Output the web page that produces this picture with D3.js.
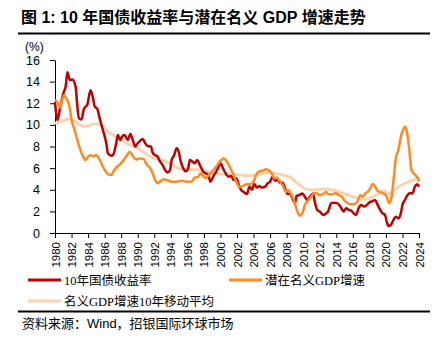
<!DOCTYPE html>
<html><head><meta charset="utf-8">
<script src="https://cdn.jsdelivr.net/npm/d3@7"></script>
<style>body{margin:0;background:#fff}svg{display:block}</style>
</head><body>
<script>
const yieldSeries = [[1980.0,12.1],[1980.3,10.45],[1980.6,11.5],[1981.0,12.9],[1981.3,13.6],[1981.5,14.86],[1981.8,14.15],[1982.1,14.2],[1982.5,13.5],[1982.7,11.7],[1982.9,10.6],[1983.2,10.5],[1983.5,11.5],[1983.9,11.85],[1984.3,13.2],[1984.6,12.45],[1984.8,11.7],[1985.1,11.5],[1985.4,10.6],[1985.8,9.5],[1986.2,8.3],[1986.4,7.37],[1986.8,7.15],[1987.0,7.2],[1987.4,8.3],[1987.6,9.06],[1987.9,8.6],[1988.1,8.9],[1988.4,9.06],[1988.8,8.6],[1989.1,9.15],[1989.4,8.6],[1989.7,8.0],[1990.0,8.3],[1990.4,8.6],[1990.6,8.7],[1990.9,8.3],[1991.2,8.05],[1991.6,8.0],[1991.8,7.43],[1992.1,7.2],[1992.4,7.06],[1992.7,6.6],[1993.0,6.3],[1993.3,5.83],[1993.6,5.6],[1993.9,5.83],[1994.1,6.75],[1994.4,7.2],[1994.7,7.83],[1995.0,7.37],[1995.2,6.6],[1995.5,6.0],[1995.8,5.7],[1996.1,6.0],[1996.3,6.75],[1996.6,6.6],[1996.9,6.45],[1997.2,6.75],[1997.5,6.3],[1997.9,5.7],[1998.2,5.52],[1998.5,5.4],[1998.8,4.75],[1999.1,5.2],[1999.5,5.7],[1999.7,6.0],[2000.0,6.45],[2000.3,5.98],[2000.75,5.37],[2001.0,5.2],[2001.3,5.27],[2001.6,4.9],[2001.9,5.06],[2002.3,4.28],[2002.5,3.97],[2002.8,3.8],[2003.2,3.6],[2003.5,4.28],[2003.8,4.0],[2004.1,4.53],[2004.4,4.2],[2004.7,4.35],[2005.0,4.2],[2005.4,4.28],[2005.7,4.6],[2006.0,4.75],[2006.3,5.2],[2006.6,4.84],[2006.9,4.9],[2007.2,4.65],[2007.5,4.65],[2007.8,4.13],[2008.1,3.6],[2008.4,3.66],[2008.7,3.2],[2009.0,2.76],[2009.2,3.43],[2009.5,3.5],[2009.9,3.66],[2010.2,3.35],[2010.5,3.05],[2010.8,3.35],[2011.2,3.66],[2011.4,2.9],[2011.7,2.13],[2012.0,1.98],[2012.4,1.67],[2012.8,1.82],[2013.0,1.98],[2013.4,2.76],[2013.7,2.8],[2014.1,2.76],[2014.5,2.44],[2014.9,1.98],[2015.2,2.3],[2015.5,2.13],[2015.8,2.07],[2016.1,1.82],[2016.4,1.67],[2016.7,2.3],[2017.0,2.6],[2017.4,2.44],[2017.7,2.6],[2018.0,2.83],[2018.4,2.95],[2018.7,3.05],[2019.0,2.6],[2019.3,2.13],[2019.6,1.82],[2019.9,1.67],[2020.1,1.05],[2020.3,0.64],[2020.6,0.74],[2020.9,1.2],[2021.2,1.5],[2021.5,1.36],[2021.8,1.82],[2022.0,2.6],[2022.3,3.05],[2022.6,3.5],[2022.9,3.7],[2023.2,3.66],[2023.5,4.28],[2023.8,4.5],[2024.0,4.28]];

const potentialGdp = [[1980.0,12.3],[1980.3,12.1],[1980.6,11.6],[1980.8,12.1],[1981.1,12.75],[1981.3,12.5],[1981.6,12.1],[1981.8,11.5],[1982.0,10.45],[1982.3,9.68],[1982.6,8.9],[1983.0,7.83],[1983.4,7.06],[1983.7,6.75],[1984.0,7.06],[1984.3,7.2],[1984.6,7.1],[1985.0,7.2],[1985.3,6.9],[1985.6,6.45],[1986.0,5.83],[1986.4,5.45],[1986.8,5.37],[1987.1,5.74],[1987.5,6.14],[1987.9,6.38],[1988.3,6.75],[1988.7,7.2],[1989.0,7.5],[1989.3,7.27],[1989.6,6.9],[1989.9,6.8],[1990.3,6.9],[1990.7,6.85],[1991.1,6.3],[1991.5,6.0],[1991.8,5.52],[1992.1,4.9],[1992.4,4.6],[1992.7,4.75],[1993.1,4.97],[1993.5,4.9],[1994.1,4.75],[1994.7,4.75],[1995.3,4.84],[1995.9,4.75],[1996.5,4.75],[1996.9,5.13],[1997.3,5.2],[1997.6,5.52],[1997.9,5.3],[1998.2,5.06],[1998.6,5.37],[1999.0,5.7],[1999.5,6.14],[1999.9,6.6],[2000.4,6.9],[2000.7,6.7],[2001.1,6.14],[2001.5,5.52],[2001.9,4.75],[2002.3,4.28],[2002.7,4.35],[2003.2,4.5],[2003.7,4.53],[2004.0,4.75],[2004.3,5.37],[2004.7,5.7],[2005.1,5.77],[2005.5,5.9],[2005.9,5.77],[2006.2,5.52],[2006.5,5.06],[2006.8,5.13],[2007.2,4.75],[2007.6,4.28],[2007.9,3.8],[2008.2,3.97],[2008.5,3.66],[2008.8,3.2],[2009.1,2.44],[2009.4,1.82],[2009.6,1.6],[2009.9,1.82],[2010.2,2.6],[2010.5,2.9],[2010.8,3.2],[2011.1,3.5],[2011.4,3.7],[2011.7,3.66],[2012.0,3.5],[2012.4,3.6],[2012.8,3.8],[2013.0,3.6],[2013.5,3.57],[2013.9,3.7],[2014.3,3.5],[2014.7,3.35],[2015.0,2.98],[2015.3,2.8],[2015.7,2.67],[2016.1,2.67],[2016.5,2.83],[2016.9,3.5],[2017.2,3.35],[2017.5,3.66],[2017.8,3.8],[2018.1,4.13],[2018.4,4.53],[2018.7,4.28],[2019.0,3.9],[2019.3,3.8],[2019.7,3.66],[2020.0,3.5],[2020.2,3.1],[2020.4,2.76],[2020.6,3.05],[2020.8,4.0],[2021.0,5.5],[2021.2,6.9],[2021.5,7.68],[2021.9,9.2],[2022.1,9.6],[2022.3,9.83],[2022.5,9.5],[2022.8,7.9],[2023.1,5.8],[2023.5,5.4],[2023.9,5.0],[2024.0,4.75]];

const gdpMovingAvg = [[1980.0,10.15],[1980.8,10.3],[1981.6,10.67],[1982.2,10.45],[1983.0,9.98],[1983.6,9.77],[1984.2,9.98],[1985.0,10.15],[1985.6,10.0],[1986.2,9.52],[1987.0,9.06],[1987.9,8.65],[1988.7,8.3],[1989.5,7.98],[1990.3,7.74],[1991.1,7.2],[1991.9,6.9],[1992.7,6.8],[1993.5,6.6],[1994.3,6.2],[1995.1,5.9],[1995.9,5.83],[1996.7,5.9],[1997.5,5.83],[1998.3,5.7],[1999.1,5.52],[1999.9,5.45],[2001.2,5.45],[2002.4,5.37],[2003.6,5.27],[2004.8,5.45],[2006.0,5.6],[2007.2,5.45],[2008.5,5.2],[2009.3,4.6],[2010.1,4.07],[2010.9,3.97],[2012.0,4.07],[2013.3,4.07],[2014.5,3.8],[2015.7,3.43],[2016.9,3.1],[2017.8,3.1],[2018.6,3.43],[2019.4,3.75],[2019.8,4.0],[2020.3,3.55],[2020.8,3.8],[2021.7,4.4],[2022.6,4.7],[2023.4,4.95],[2024.0,5.06]];

const yTicks = [0,2,4,6,8,10,12,14,16];
const xTicks = [1980,1982,1984,1986,1988,1990,1992,1994,1996,1998,2000,2002,2004,2006,2008,2010,2012,2014,2016,2018,2020,2022,2024];
const seriesNames = ["10年国债收益率","潜在名义GDP增速","名义GDP增速10年移动平均"];
const seriesColors = ["#C00000","#FF8A1F","#FBD3B2"];
const titleText = "图 1: 10 年国债收益率与潜在名义 GDP 增速走势";
const sourceText = "资料来源：Wind，招银国际环球市场";

const W = 440, H = 342;
const svg = d3.select("body").append("svg").attr("width", W).attr("height", H);

const x = d3.scaleLinear().domain([1980, 2024]).range([55, 419]);
const y = d3.scaleLinear().domain([0, 16]).range([233, 60]);

// title
svg.append("text").attr("x", 21).attr("y", 23)
  .attr("font-family", "'Liberation Sans','Noto Sans CJK SC',sans-serif")
  .attr("font-weight", "bold").attr("font-size", 16).attr("fill", "#000")
  .text(titleText);
svg.append("line").attr("x1", 18).attr("x2", 430).attr("y1", 33.5).attr("y2", 33.5)
  .attr("stroke", "#000").attr("stroke-width", 2);

// unit
svg.append("text").attr("x", 25).attr("y", 51)
  .attr("font-family", "'Liberation Sans',sans-serif").attr("font-size", 12).text("(%)");

// y axis
const yAxis = d3.axisLeft(y).tickValues(yTicks).tickSize(5).tickPadding(10).tickSizeOuter(0);
const gy = svg.append("g").attr("transform", "translate(55,0)").call(yAxis);
gy.selectAll("text").attr("font-family", "'Liberation Sans',sans-serif").attr("font-size", 12.5).attr("fill", "#000");
gy.selectAll("line,path").attr("stroke", "#000");

// x axis
const xAxis = d3.axisBottom(x).tickValues(xTicks).tickFormat(d3.format("d")).tickSize(5).tickSizeOuter(0);
const gx = svg.append("g").attr("transform", "translate(0,233)").call(xAxis);
gx.selectAll("line,path").attr("stroke", "#000");
gx.selectAll("text")
  .attr("font-family", "'Liberation Sans',sans-serif").attr("font-size", 11.5).attr("fill", "#000")
  .attr("transform", "rotate(-90)")
  .attr("text-anchor", "end").attr("x", -9).attr("y", 0).attr("dy", "0.35em");

// lines
const smooth = d3.line().x(d => x(d[0])).y(d => y(d[1])).curve(d3.curveBasis);
const mono = d3.line().x(d => x(d[0])).y(d => y(d[1])).curve(d3.curveMonotoneX);
svg.append("path").datum(gdpMovingAvg).attr("d", smooth)
  .attr("fill", "none").attr("stroke", seriesColors[2]).attr("stroke-width", 3);
svg.append("path").datum(yieldSeries).attr("d", mono)
  .attr("fill", "none").attr("stroke", seriesColors[0]).attr("stroke-width", 2.5).attr("stroke-linejoin", "round");
svg.append("path").datum(potentialGdp).attr("d", mono)
  .attr("fill", "none").attr("stroke", seriesColors[1]).attr("stroke-width", 2.5).attr("stroke-linejoin", "round");

// legend
const legendPos = [[28, 280], [229, 280], [28, 301]];
seriesNames.forEach((name, i) => {
  const [lx, ly] = legendPos[i];
  svg.append("line").attr("x1", lx).attr("x2", lx + 33).attr("y1", ly).attr("y2", ly)
    .attr("stroke", seriesColors[i]).attr("stroke-width", 3);
  svg.append("text").attr("x", lx + 36).attr("y", ly + 4.5)
    .attr("font-family", "'Liberation Serif','Noto Sans CJK SC',serif").attr("font-size", 12.5)
    .attr("fill", "#000").text(name);
});

svg.append("line").attr("x1", 18).attr("x2", 430).attr("y1", 311.5).attr("y2", 311.5)
  .attr("stroke", "#000").attr("stroke-width", 2);
svg.append("text").attr("x", 22).attr("y", 328)
  .attr("font-family", "'Liberation Sans','Noto Sans CJK SC',sans-serif").attr("font-size", 13)
  .attr("fill", "#000").text(sourceText);
</script>
</body></html>
